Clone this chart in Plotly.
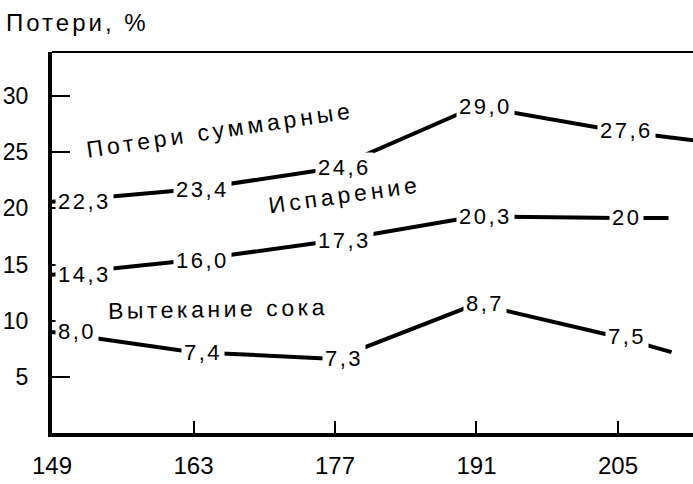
import plotly.graph_objects as go

# ---- data ----
days = [149, 163, 177, 191, 205]
day_labels = ["149", "163", "177", "191", "205"]
y_ticks = [5, 10, 15, 20, 25, 30]

# drawn line positions (read on the axis scale); last point = end of the drawn line
total_x = [149, 163, 177, 191, 205, 214]
total_y = [20.6, 21.7, 23.6, 29.1, 26.9, 25.9]
total_text = ["22,3", "23,4", "24,6", "29,0", "27,6"]

evap_x = [149, 163, 177, 191, 205, 210]
evap_y = [14.1, 15.4, 17.15, 19.3, 19.15, 19.15]
evap_text = ["14,3", "16,0", "17,3", "20,3", "20"]

juice_x = [149, 163, 177, 191, 205, 210.3]
juice_y = [9.0, 7.2, 6.6, 11.5, 8.55, 7.2]
juice_text = ["8,0", "7,4", "7,3", "8,7", "7,5"]

series = [
    ("Потери суммарные", total_x, total_y, total_text),
    ("Испарение", evap_x, evap_y, evap_text),
    ("Вытекание сока", juice_x, juice_y, juice_text),
]

# series captions: (text, x, y, angle, letter spacing)
captions = [
    ("Потери суммарные", 165.6, 27.0, -8.5, 4),
    ("Испарение", 177.9, 21.2, -8, 4),
    ("Вытекание сока", 165.4, 11.0, -1, 3.5),
]

FONT = "Liberation Sans, Arial, sans-serif"

fig = go.Figure()
annotations = []
for name, xs, ys, texts in series:
    fig.add_trace(go.Scatter(x=xs, y=ys, mode="lines", name=name,
                             line=dict(color="black", width=4),
                             showlegend=False, hoverinfo="skip"))
    for i, t in enumerate(texts):
        first = i == 0
        annotations.append(dict(
            x=xs[i], y=ys[i], xref="x", yref="y",
            text=f'<span style="letter-spacing:2.5px">{t}</span>',
            showarrow=False,
            xanchor="left" if first else "center",
            yanchor="middle",
            xshift=3 if first else 9,
            bgcolor="white", borderpad=2,
            font=dict(family=FONT, size=22, color="black"),
        ))

for text, cx, cy, ang, ls in captions:
    annotations.append(dict(
        x=cx, y=cy, xref="x", yref="y",
        text=f'<span style="letter-spacing:{ls}px">{text}</span>',
        showarrow=False, textangle=ang,
        xanchor="center", yanchor="middle",
        font=dict(family=FONT, size=23, color="black"),
    ))

W, H = 693, 484
L, R, T, B = 52, 0, 52, 51
pw, ph = W - L - R, H - T - B
px_per_day = 10.107
px_per_unit = 11.23

# title, placed in pixels from the top-left corner
title_px = (4, 23)
annotations.append(dict(
    x=(title_px[0] - L) / pw, y=(H - title_px[1] - B) / ph,
    xref="paper", yref="paper",
    text='<span style="letter-spacing:3px">Потери, %</span>',
    showarrow=False, xanchor="left", yanchor="middle",
    font=dict(family=FONT, size=24, color="black"),
))

fig.update_layout(
    width=W, height=H,
    margin=dict(l=L, r=R, t=T, b=B),
    paper_bgcolor="white", plot_bgcolor="white",
    font=dict(family=FONT, color="black"),
    annotations=annotations,
    shapes=[dict(type="line", xref="paper", yref="paper",
                 x0=0, x1=1, y0=1, y1=1,
                 line=dict(color="black", width=2))],
    xaxis=dict(
        range=[149, 149 + pw / px_per_day],
        tickvals=days, ticktext=day_labels,
        ticks="inside", ticklen=12, tickwidth=2, tickcolor="black",
        showline=True, linewidth=4, linecolor="black",
        showgrid=False, zeroline=False,
        tickfont=dict(family=FONT, size=24, color="black"),
        ticklabelstandoff=8,
    ),
    yaxis=dict(
        range=[0, ph / px_per_unit],
        tickvals=y_ticks, ticktext=[str(v) for v in y_ticks],
        ticks="inside", ticklen=18, tickwidth=2, tickcolor="black",
        showline=True, linewidth=4, linecolor="black",
        showgrid=False, zeroline=False,
        tickfont=dict(family=FONT, size=23, color="black"),
        ticklabelstandoff=15,
    ),
)

fig.write_html(
    "out.html",
    config={"displayModeBar": False},
    post_script="document.body.style.margin='0';document.body.style.overflow='hidden';",
)
